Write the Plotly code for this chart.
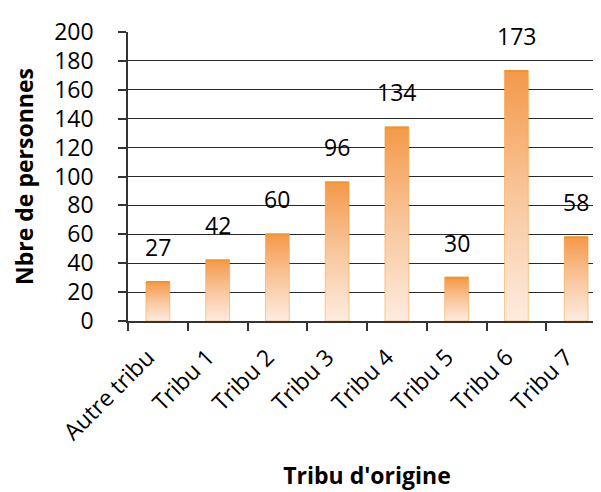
import plotly.graph_objects as go

categories = ["Autre tribu", "Tribu 1", "Tribu 2", "Tribu 3", "Tribu 4", "Tribu 5", "Tribu 6", "Tribu 7"]
values = [27, 42, 60, 96, 134, 30, 173, 58]
y_ticks = [0, 20, 40, 60, 80, 100, 120, 140, 160, 180, 200]

FONT = "Open Sans"
half = 0.2  # half bar width in category units

fig = go.Figure()
for i, v in enumerate(values):
    fig.add_trace(go.Scatter(
        x=[i - half, i + half, i + half, i - half, i - half],
        y=[0, 0, v, v, 0],
        mode="lines",
        fill="toself",
        line=dict(color="rgba(247,148,29,0.45)", width=1),
        fillgradient=dict(type="vertical",
                          colorscale=[[0, "#FDECDF"], [0.5, "#F9C69C"], [1, "#F4994A"]]),
        hoverinfo="skip",
        showlegend=False,
    ))
    fig.add_trace(go.Scatter(
        x=[i - half, i + half], y=[v, v], mode="lines",
        line=dict(color="#F7941D", width=2), hoverinfo="skip", showlegend=False,
    ))
    fig.add_annotation(
        x=i, y=v, text=str(v), showarrow=False, xanchor="center", yanchor="bottom",
        yshift=17, font=dict(family=FONT, size=23, color="#000000"),
    )

fig.update_layout(
    width=601, height=492,
    margin=dict(l=120, r=3, t=24, b=179),
    paper_bgcolor="white", plot_bgcolor="white",
    font=dict(family=FONT, color="#000000"),
    xaxis=dict(
        range=[-0.5, len(categories) - 0.5],
        tickmode="array", tickvals=list(range(len(categories))), ticktext=categories,
        tickangle=-45, ticks="", showgrid=False, zeroline=False,
        showline=True, linecolor="#333333", linewidth=1.5,
        tickfont=dict(family=FONT, size=23),
        ticklabelstandoff=12, ticklabelshift=-10,
        minor=dict(tickmode="array", tickvals=[k - 0.5 for k in range(len(categories) + 1)],
                   ticks="outside", ticklen=8, tickcolor="#333333", tickwidth=1.5, showgrid=False),
        title=dict(text="<b>Tribu d'origine</b>", font=dict(family=FONT, size=23), standoff=22),
        fixedrange=True,
    ),
    yaxis=dict(
        range=[0, 200], tickmode="array", tickvals=y_ticks,
        ticks="outside", ticklen=8, tickcolor="#333333", tickwidth=1.5,
        showgrid=True, gridcolor="#2a2a2a", gridwidth=1.4,
        showline=True, linecolor="#333333", linewidth=1.5, zeroline=False,
        tickfont=dict(family=FONT, size=23),
        ticklabelstandoff=20,
        title=dict(text="<b>Nbre de personnes</b>", font=dict(family=FONT, size=23), standoff=14),
        fixedrange=True,
    ),
)

fig.write_html("out.html")
